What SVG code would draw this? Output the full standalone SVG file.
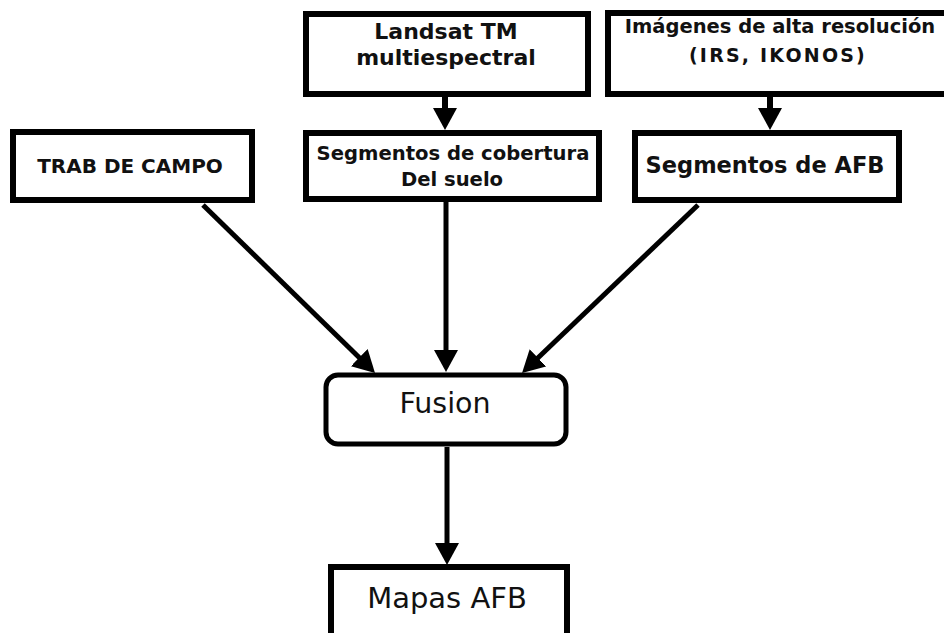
<svg xmlns="http://www.w3.org/2000/svg" width="944" height="633" viewBox="0 0 944 633">
<style>
.box{fill:#fff;stroke:#000;stroke-width:6}
.con{stroke:#000;stroke-width:5;fill:none}
text{font-family:"DejaVu Sans","Verdana",sans-serif;fill:#111;text-anchor:middle}
.b{font-weight:bold}
</style>
<defs>
<marker id="ah" markerUnits="userSpaceOnUse" markerWidth="22" markerHeight="24" refX="2" refY="12" orient="auto">
<path d="M0,0 L22,12 L0,24 z" fill="#000"/>
</marker>
</defs>
<rect width="944" height="633" fill="#fff"/>
<g id="landsat">
<rect class="box" x="306" y="14" width="282" height="80"/>
<text class="b" x="446" y="39" font-size="22">Landsat TM</text>
<text class="b" x="446" y="65" font-size="22">multiespectral</text>
</g>
<g id="imagenes">
<rect class="box" x="608" y="13" width="345" height="81"/>
<text class="b" x="780" y="33" font-size="19.5">Imágenes de alta resolución</text>
<text class="b" x="778" y="62" font-size="19" letter-spacing="2.2">(IRS, IKONOS)</text>
</g>
<g id="trab">
<rect class="box" x="13" y="132" width="239" height="68"/>
<text class="b" x="130" y="173" font-size="20">TRAB DE CAMPO</text>
</g>
<g id="segcob">
<rect class="box" x="306" y="133" width="293" height="66"/>
<text class="b" x="453" y="160" font-size="19.6">Segmentos de cobertura</text>
<text class="b" x="452" y="186" font-size="19.6">Del suelo</text>
</g>
<g id="segafb">
<rect class="box" x="635" y="133" width="264" height="67"/>
<text class="b" x="765" y="173" font-size="22.5">Segmentos de AFB</text>
</g>
<g id="fusion">
<rect class="box" x="326" y="375" width="240" height="69" rx="12" ry="12" style="stroke-width:5"/>
<text x="445" y="413" font-size="28.5">Fusion</text>
</g>
<g id="mapas">
<rect class="box" x="331" y="567" width="236" height="100"/>
<text x="447" y="608" font-size="29">Mapas AFB</text>
</g>
<g id="connectors">
<line class="con" x1="445" y1="97" x2="445" y2="110" marker-end="url(#ah)" style="stroke-width:6"/>
<line class="con" x1="770" y1="97" x2="770" y2="110" marker-end="url(#ah)" style="stroke-width:6"/>
<line class="con" x1="446" y1="202" x2="446" y2="352" marker-end="url(#ah)"/>
<line class="con" x1="203" y1="205" x2="360.7" y2="359" marker-end="url(#ah)"/>
<line class="con" x1="698" y1="205" x2="536.5" y2="359.2" marker-end="url(#ah)"/>
<line class="con" x1="447" y1="447" x2="447" y2="545" marker-end="url(#ah)"/>
</g>
</svg>
